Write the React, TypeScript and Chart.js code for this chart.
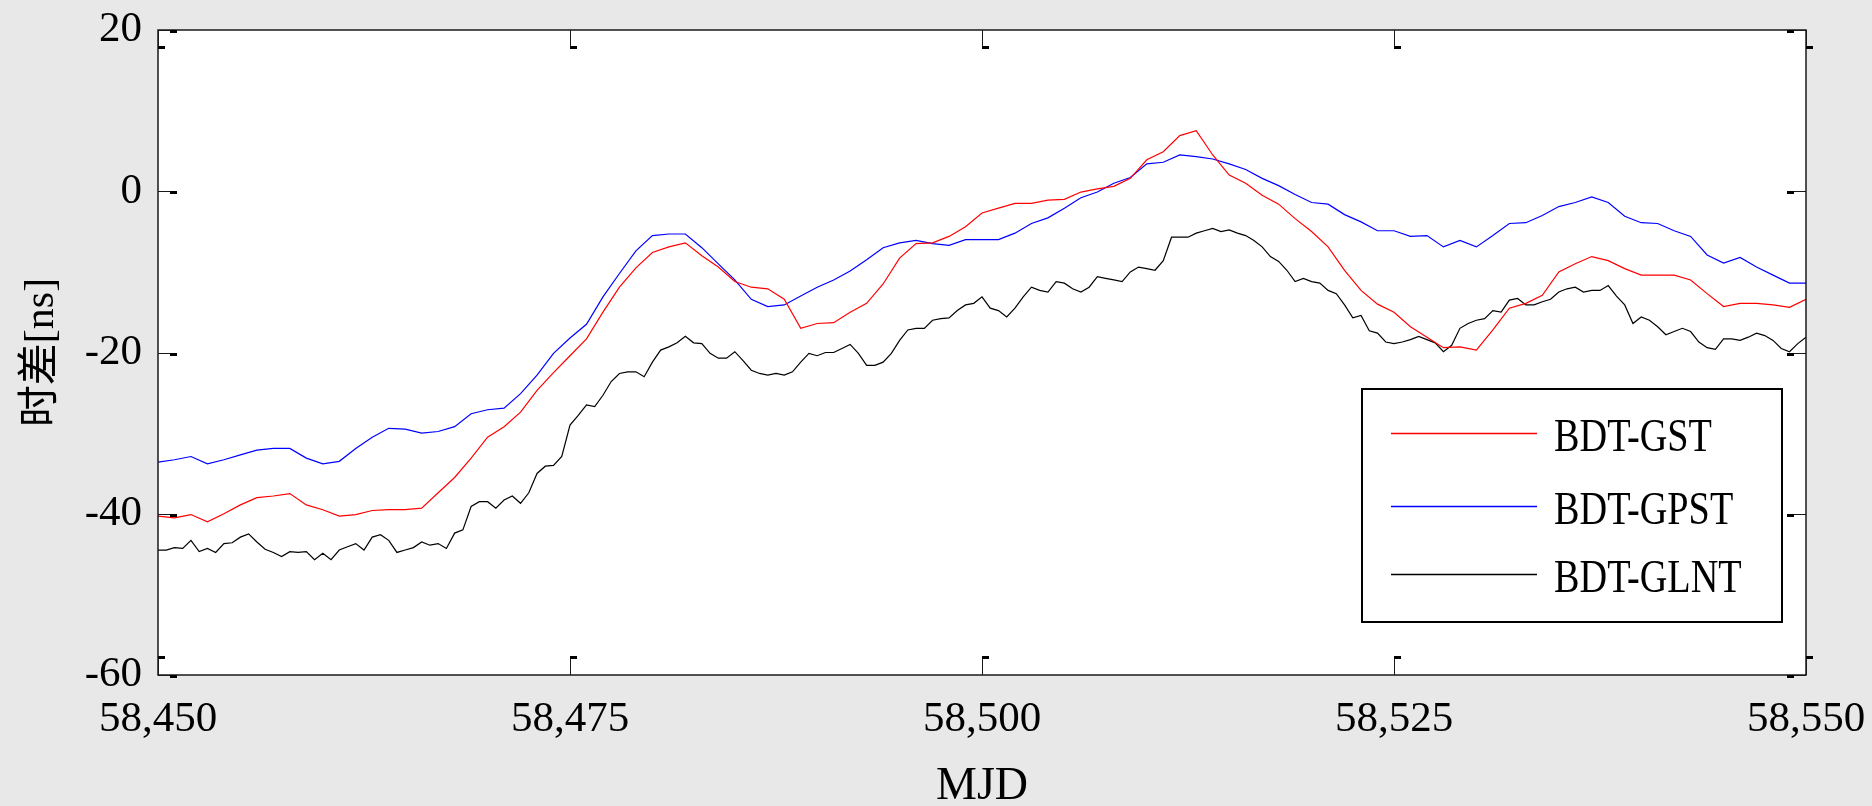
import React, { useEffect, useRef } from 'react';
import { Chart, registerables } from 'chart.js';

Chart.register(...registerables);

// ---------- data ----------
const xTicks = [58450, 58475, 58500, 58525, 58550];
const yTicks = [20, 0, -20, -40, -60];
const seriesLabels = ['BDT-GST', 'BDT-GPST', 'BDT-GLNT'];
const seriesColors = ['#ff0000', '#0000ff', '#000000'];

// daily MJD (58450 .. 58550)
const mjdDaily: number[] = [];
for (let i = 0; i <= 100; i++) mjdDaily.push(58450 + i);
// half-day MJD (58450 .. 58550)
const mjdHalf: number[] = [];
for (let i = 0; i <= 200; i++) mjdHalf.push(58450 + i * 0.5);

// BDT-GST (red), daily
const gstValues = [
  -40.3, -40.5, -40.1, -41.0, -40.0, -38.9, -38.0, -37.8, -37.5, -38.9,
  -39.5, -40.3, -40.1, -39.6, -39.5, -39.5, -39.3, -37.4, -35.5, -33.1,
  -30.5, -29.2, -27.4, -24.7, -22.5, -20.4, -18.3, -15.0, -11.9, -9.5,
  -7.6, -6.9, -6.4, -8.0, -9.4, -11.2, -11.9, -12.1, -13.4, -17.0,
  -16.4, -16.3, -15.0, -13.9, -11.5, -8.3, -6.5, -6.4, -5.6, -4.4,
  -2.7, -2.1, -1.5, -1.5, -1.1, -1.0, -0.1, 0.3, 0.6, 1.6,
  3.9, 4.9, 6.9, 7.5, 4.5, 2.0, 1.0, -0.5, -1.6, -3.4,
  -5.0, -6.9, -9.8, -12.3, -14.0, -15.0, -16.8, -18.1, -19.4, -19.3,
  -19.7, -17.2, -14.5, -13.9, -12.9, -10.0, -9.0, -8.1, -8.6, -9.6,
  -10.4, -10.4, -10.4, -11.0, -12.7, -14.3, -13.9, -13.9, -14.1, -14.4,
  -13.4,
];

// BDT-GPST (blue), daily
const gpstValues = [
  -33.6, -33.3, -32.9, -33.8, -33.3, -32.7, -32.1, -31.9, -31.9, -33.1,
  -33.8, -33.5, -31.9, -30.5, -29.4, -29.5, -30.0, -29.8, -29.2, -27.6,
  -27.1, -26.9, -25.1, -22.8, -20.1, -18.2, -16.5, -13.1, -10.2, -7.4,
  -5.5, -5.3, -5.3, -7.0, -9.0, -11.0, -13.4, -14.3, -14.1, -13.0,
  -11.9, -11.0, -9.9, -8.5, -7.0, -6.4, -6.1, -6.5, -6.7, -6.0,
  -6.0, -6.0, -5.2, -4.0, -3.3, -2.1, -0.8, -0.1, 1.0, 1.7,
  3.4, 3.6, 4.5, 4.3, 4.0, 3.4, 2.7, 1.6, 0.7, -0.4,
  -1.4, -1.6, -2.9, -3.8, -4.9, -4.9, -5.6, -5.5, -6.9, -6.1,
  -6.9, -5.5, -4.0, -3.9, -3.0, -1.9, -1.4, -0.7, -1.4, -3.1,
  -3.9, -4.0, -4.9, -5.6, -7.9, -8.9, -8.2, -9.4, -10.4, -11.4,
  -11.4,
];

// BDT-GLNT (black), half-daily
const glntValues = [
  -44.5, -44.5, -44.2, -44.3, -43.3, -44.7, -44.3, -44.8, -43.7, -43.6,
  -42.9, -42.5, -43.5, -44.4, -44.8, -45.3, -44.7, -44.8, -44.7, -45.7,
  -44.9, -45.7, -44.5, -44.1, -43.7, -44.5, -42.9, -42.6, -43.3, -44.8,
  -44.5, -44.2, -43.5, -43.9, -43.7, -44.3, -42.4, -42.0, -39.1, -38.5,
  -38.5, -39.3, -38.3, -37.8, -38.7, -37.4, -35.0, -34.1, -34.0, -32.9,
  -29.0, -27.8, -26.5, -26.7, -25.3, -23.6, -22.6, -22.4, -22.4, -23.0,
  -21.2, -19.7, -19.3, -18.8, -18.0, -18.8, -18.9, -20.1, -20.7, -20.7,
  -19.9, -21.0, -22.2, -22.6, -22.8, -22.6, -22.8, -22.4, -21.2, -20.1,
  -20.4, -20.0, -20.0, -19.5, -19.0, -20.1, -21.6, -21.6, -21.2, -20.1,
  -18.5, -17.2, -17.0, -17.0, -16.0, -15.8, -15.7, -14.8, -14.1, -13.9,
  -13.1, -14.5, -14.8, -15.6, -14.5, -13.1, -11.9, -12.3, -12.5, -11.2,
  -11.4, -12.1, -12.5, -11.9, -10.6, -10.8, -11.0, -11.2, -10.0, -9.4,
  -9.6, -9.8, -8.6, -5.7, -5.7, -5.7, -5.2, -4.9, -4.6, -5.0,
  -4.8, -5.2, -5.5, -6.1, -6.9, -8.1, -8.7, -9.8, -11.2, -10.8,
  -11.2, -11.4, -12.3, -12.7, -14.1, -15.7, -15.4, -17.3, -17.6, -18.7,
  -18.9, -18.7, -18.4, -18.0, -18.4, -18.8, -19.9, -19.1, -17.0, -16.4,
  -16.0, -15.8, -14.8, -15.0, -13.5, -13.3, -14.1, -14.1, -13.7, -13.4,
  -12.5, -12.1, -11.9, -12.5, -12.3, -12.3, -11.7, -13.0, -14.1, -16.4,
  -15.6, -16.0, -16.8, -17.8, -17.4, -17.0, -17.4, -18.7, -19.4, -19.6,
  -18.3, -18.3, -18.5, -18.1, -17.6, -17.9, -18.5, -19.5, -19.9, -18.9,
  -18.1,
];

// ---------- style ----------
const SERIF = "'Liberation Serif', 'Times New Roman', serif";
const CJK = "'Liberation Serif', 'Noto Sans CJK SC', serif";
const BG = '#e8e8e8';
const W = 1872;
const H = 806;

const framePlugin = {
  id: 'matlabFrame',
  beforeDraw(chart: any) {
    const { ctx, chartArea: a } = chart;
    ctx.save();
    ctx.fillStyle = BG;
    ctx.fillRect(0, 0, chart.width, chart.height);
    ctx.fillStyle = '#ffffff';
    ctx.fillRect(a.left, a.top, a.right - a.left, a.bottom - a.top);
    ctx.restore();
  },
  afterDraw(chart: any) {
    const { ctx, chartArea: a, scales } = chart;
    const xs = scales.x;
    const ys = scales.y;
    ctx.save();
    // frame
    ctx.strokeStyle = '#1a1a1a';
    ctx.lineWidth = 1.5;
    ctx.strokeRect(a.left, a.top, a.right - a.left, a.bottom - a.top);
    // inward ticks
    const tl = 18;
    ctx.lineWidth = 1;
    ctx.fillStyle = '#000';
    xTicks.forEach((v) => {
      const px = Math.round(xs.getPixelForValue(v)) + 0.5;
      ctx.beginPath();
      ctx.moveTo(px, a.bottom);
      ctx.lineTo(px, a.bottom - tl);
      ctx.moveTo(px, a.top);
      ctx.lineTo(px, a.top + tl);
      ctx.stroke();
      ctx.fillRect(px - 0.5, a.bottom - tl - 1, 7, 3);
      ctx.fillRect(px - 0.5, a.top + tl - 2, 7, 3);
    });
    yTicks.forEach((v) => {
      const py = Math.round(ys.getPixelForValue(v)) + 0.5;
      ctx.beginPath();
      ctx.moveTo(a.left, py);
      ctx.lineTo(a.left + tl, py);
      ctx.moveTo(a.right, py);
      ctx.lineTo(a.right - tl, py);
      ctx.stroke();
      ctx.fillRect(a.left + tl - 6, py - 0.5, 7, 3);
      ctx.fillRect(a.right - tl - 1, py - 0.5, 7, 3);
    });

    // legend box
    const lx = 1362, ly = 389, lw = 420, lh = 233;
    ctx.fillStyle = '#ffffff';
    ctx.fillRect(lx, ly, lw, lh);
    ctx.strokeStyle = '#000';
    ctx.lineWidth = 2;
    ctx.strokeRect(lx, ly, lw, lh);
    const rows = [433, 506, 574];
    chart.data.datasets.forEach((ds: any, i: number) => {
      const y = rows[i] + 0.5;
      ctx.strokeStyle = ds.borderColor;
      ctx.lineWidth = 1.3;
      ctx.beginPath();
      ctx.moveTo(1391, y);
      ctx.lineTo(1537, y);
      ctx.stroke();
      ctx.save();
      ctx.translate(1554, y + 5);
      ctx.scale(0.85, 1.05);
      ctx.fillStyle = '#000';
      ctx.font = `45px ${SERIF}`;
      ctx.textBaseline = 'middle';
      ctx.textAlign = 'left';
      ctx.fillText(ds.label, 0, 0);
      ctx.restore();
    });
    ctx.restore();
  },
};

function makeSeries(xv: number[], yv: number[]) {
  return yv.map((y, i) => ({ x: xv[i], y }));
}

export default function App() {
  const ref = useRef<HTMLCanvasElement | null>(null);

  useEffect(() => {
    document.body.style.margin = '0';
    document.body.style.background = BG;
    const canvas = ref.current!;
    const chart = new Chart(canvas, {
      type: 'line',
      data: {
        datasets: [
          { label: seriesLabels[0], data: makeSeries(mjdDaily, gstValues), borderColor: seriesColors[0] },
          { label: seriesLabels[1], data: makeSeries(mjdDaily, gpstValues), borderColor: seriesColors[1] },
          { label: seriesLabels[2], data: makeSeries(mjdHalf, glntValues), borderColor: seriesColors[2] },
        ].map((d) => ({
          ...d,
          borderWidth: 1.2,
          pointRadius: 0,
          tension: 0,
          fill: false,
        })),
      },
      options: {
        animation: false,
        responsive: false,
        devicePixelRatio: 1,
        layout: { padding: { top: 30, right: 66, left: 0, bottom: 0 } },
        plugins: {
          legend: { display: false },
          tooltip: { enabled: false },
        },
        scales: {
          x: {
            type: 'linear',
            min: 58450,
            max: 58550,
            afterBuildTicks: (s: any) => {
              s.ticks = xTicks.map((v) => ({ value: v }));
            },
            afterFit: (s: any) => {
              s.height = 131;
              s.paddingLeft = 0;
              s.paddingRight = 0;
            },
            grid: { display: false, drawTicks: false },
            border: { display: false },
            ticks: {
              autoSkip: false,
              maxRotation: 0,
              padding: 19,
              color: '#000',
              font: { family: SERIF, size: 43 },
              callback: (v: any) => Number(v).toLocaleString('en-US'),
            },
            title: {
              display: true,
              text: 'MJD',
              color: '#000',
              font: { family: SERIF, size: 46 },
              padding: { top: 0, bottom: -9 },
            },
          },
          y: {
            type: 'linear',
            min: -60,
            max: 20,
            afterBuildTicks: (s: any) => {
              s.ticks = yTicks.map((v) => ({ value: v }));
            },
            afterFit: (s: any) => {
              s.width = 158;
              s.paddingTop = 0;
              s.paddingBottom = 0;
            },
            grid: { display: false, drawTicks: false },
            border: { display: false },
            ticks: {
              autoSkip: false,
              padding: 16,
              color: '#000',
              font: { family: SERIF, size: 43 },
            },
            title: {
              display: true,
              text: '时差[ns]',
              color: '#000',
              font: { family: CJK, size: 42 },
              padding: { top: 17, bottom: 0 },
            },
          },
        },
      },
      plugins: [framePlugin],
    });
    return () => chart.destroy();
  }, []);

  return (
    <div style={{ width: W, height: H, background: BG }}>
      <canvas ref={ref} width={W} height={H} style={{ display: 'block', width: W, height: H }} />
    </div>
  );
}
